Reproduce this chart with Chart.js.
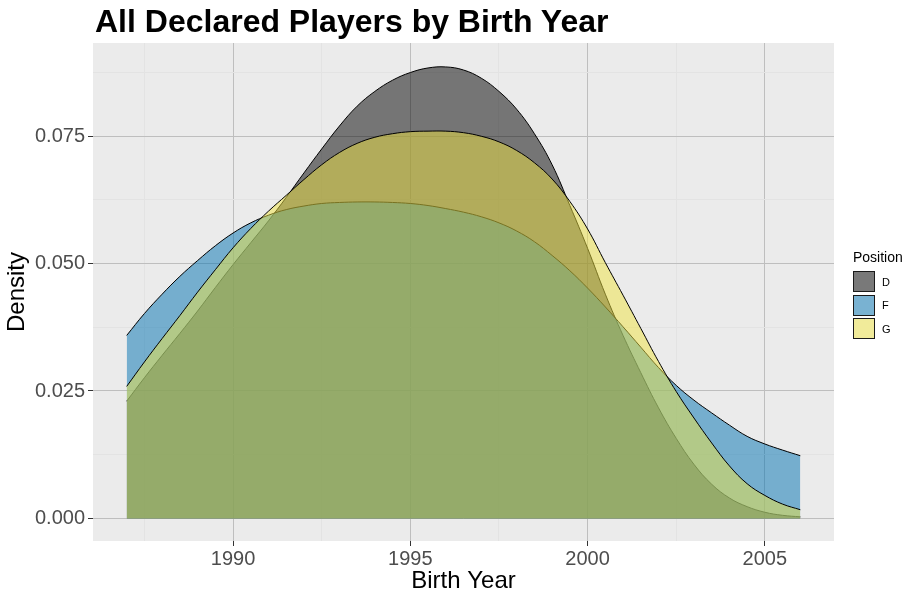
<!DOCTYPE html>
<html>
<head>
<meta charset="utf-8">
<script src="https://cdn.jsdelivr.net/npm/chart.js@4"></script>
<style>
    body { margin: 0; background: #fff; font-family: "Liberation Sans", Arial, sans-serif; }
    #wrap { position: relative; width: 919px; height: 601px; }
    #chart { position: absolute; left: 0; top: 0; }
    #title { position: absolute; left: 95px; top: 5px; font-size: 32px; font-weight: bold; line-height: 32px; color: #000; white-space: nowrap; }
    #legend { position: absolute; left: 853px; top: 249px; }
    #legend .ttl { font-size: 14px; line-height: 16px; margin-bottom: 5px; }
    #legend .row { display: flex; align-items: center; height: 23.5px; }
    #legend .key { width: 22px; height: 21px; background: #f2f2f2; position: relative; }
    #legend .key span { position: absolute; inset: 0; border: 1px solid #1a1a1a; box-sizing: border-box; }
    #legend .lbl { font-size: 11px; margin-left: 7px; }
</style>
</head>
<body>
<div id="wrap">
    <canvas id="chart" width="919" height="601"></canvas>
    <div id="title">All Declared Players by Birth Year</div>
    <div id="legend"></div>
</div>
<script>
/* ---------------- DATA ---------------- */
const birthYears = [1987, 1987.5, 1988, 1988.5, 1989, 1989.5, 1990, 1990.5, 1991, 1991.5,
    1992, 1992.5, 1993, 1993.5, 1994, 1994.5, 1995, 1995.5, 1996, 1996.5,
    1997, 1997.5, 1998, 1998.5, 1999, 1999.5, 2000, 2000.5, 2001, 2001.5,
    2002, 2002.5, 2003, 2003.5, 2004, 2004.5, 2005, 2005.5, 2006];

const densityD = [0.0230, 0.0276, 0.0320, 0.0363, 0.0407, 0.0453, 0.0498, 0.0541, 0.0584, 0.0630,
    0.0678, 0.0725, 0.0770, 0.0809, 0.0838, 0.0860, 0.0875, 0.0884, 0.0886, 0.0880,
    0.0864, 0.0838, 0.0803, 0.0755, 0.0694, 0.0614, 0.0530, 0.0440, 0.0359, 0.0286,
    0.0217, 0.0157, 0.0106, 0.0067, 0.0040, 0.0023, 0.0012, 0.0006, 0.0003];

const densityF = [0.0359, 0.0402, 0.0440, 0.0475, 0.0506, 0.0535, 0.0560, 0.0580, 0.0595, 0.0606,
    0.0613, 0.0618, 0.0620, 0.0621, 0.0621, 0.0620, 0.0618, 0.0614, 0.0608, 0.0601,
    0.0592, 0.0580, 0.0564, 0.0543, 0.0516, 0.0486, 0.0452, 0.0415, 0.0376, 0.0336,
    0.0296, 0.0261, 0.0232, 0.0207, 0.0183, 0.0161, 0.0146, 0.0134, 0.0123];

const densityG = [0.0259, 0.0307, 0.0353, 0.0398, 0.0444, 0.0488, 0.0531, 0.0569, 0.0603, 0.0634,
    0.0665, 0.0694, 0.0718, 0.0736, 0.0748, 0.0755, 0.0759, 0.0760, 0.0760, 0.0757,
    0.0750, 0.0739, 0.0722, 0.0698, 0.0666, 0.0622, 0.0568, 0.0502, 0.0438, 0.0373,
    0.0308, 0.0249, 0.0197, 0.0148, 0.0103, 0.0068, 0.0045, 0.0028, 0.0017];

const positions = ["D", "F", "G"];
const fillColors = ["rgba(0,0,0,0.5)", "rgba(0,114,178,0.5)", "rgba(240,228,66,0.5)"];

const xMajorTicks = [1990, 1995, 2000, 2005];
const xMinorTicks = [1987.5, 1992.5, 1997.5, 2002.5];
const yMajorTicks = [0, 0.025, 0.05, 0.075];
const yMinorTicks = [0.0125, 0.0375, 0.0625, 0.0875];

/* ---------------- HELPERS ---------------- */
const toPoints = vals => vals.map((v, i) => ({ x: birthYears[i], y: v }));
const isMajor = (list, v) => list.some(t => Math.abs(t - v) < 1e-6);
const allTicks = (a, b) => a.concat(b).sort((p, q) => p - q).map(v => ({ value: v }));

const panelBg = {
    id: "panelBg",
    beforeDraw(chart) {
        const { ctx, chartArea: a } = chart;
        ctx.save();
        ctx.fillStyle = "#ebebeb";
        ctx.fillRect(a.left, a.top, a.right - a.left, a.bottom - a.top);
        ctx.restore();
    }
};

const seriesData = [densityD, densityF, densityG];
// D drawn first (bottom), G last (top)
const datasets = positions.map((p, i) => ({
    label: p,
    data: toPoints(seriesData[i]),
    backgroundColor: fillColors[i],
    borderColor: "#000",
    borderWidth: 1,
    fill: "origin",
    pointRadius: 0,
    tension: 0.4,
    order: positions.length - i
}));

const tickFont = { family: "Liberation Sans", size: 20 };
const titleFont = { family: "Liberation Sans", size: 24 };

new Chart(document.getElementById("chart"), {
    type: "line",
    data: { datasets },
    plugins: [panelBg],
    options: {
        responsive: false,
        animation: false,
        events: [],
        layout: { padding: { top: 43, right: 85, left: 0, bottom: 0 } },
        plugins: { legend: { display: false }, tooltip: { enabled: false }, title: { display: false } },
        scales: {
            x: {
                type: "linear",
                min: 1986.05,
                max: 2006.95,
                afterBuildTicks: s => { s.ticks = allTicks(xMajorTicks, xMinorTicks); },
                afterFit: s => { s.height = 60; },
                border: { display: false },
                grid: {
                    color: c => isMajor(xMajorTicks, c.tick.value) ? "#bebebe" : "#e3e3e3",
                    lineWidth: 1,
                    tickColor: c => isMajor(xMajorTicks, c.tick.value) ? "#333333" : "rgba(0,0,0,0)",
                    tickLength: 5,
                    tickWidth: 1
                },
                ticks: {
                    autoSkip: false,
                    maxRotation: 0,
                    padding: 1,
                    color: "#4d4d4d",
                    font: tickFont,
                    callback: v => isMajor(xMajorTicks, v) ? String(v) : ""
                },
                title: { display: true, text: "Birth Year", color: "#000", font: titleFont, padding: { top: 0, bottom: 5.6 } }
            },
            y: {
                type: "linear",
                min: -0.00444,
                max: 0.0933,
                afterBuildTicks: s => { s.ticks = allTicks(yMajorTicks, yMinorTicks); },
                afterFit: s => { s.width = 93; },
                border: { display: false },
                grid: {
                    color: c => isMajor(yMajorTicks, c.tick.value) ? "#bebebe" : "#e3e3e3",
                    lineWidth: 1,
                    tickColor: c => isMajor(yMajorTicks, c.tick.value) ? "#333333" : "rgba(0,0,0,0)",
                    tickLength: 5,
                    tickWidth: 1
                },
                ticks: {
                    autoSkip: false,
                    padding: 3,
                    color: "#4d4d4d",
                    font: tickFont,
                    callback: v => isMajor(yMajorTicks, v) ? v.toFixed(3) : ""
                },
                title: { display: true, text: "Density", color: "#000", font: titleFont, padding: { top: 3, bottom: 0 } }
            }
        }
    }
});

/* ---------------- LEGEND ---------------- */
const legend = document.getElementById("legend");
legend.innerHTML = `<div class="ttl">Position</div>` + positions
    .map((p, i) => `<div class="row"><div class="key"><span style="background:${fillColors[i]}"></span></div><div class="lbl">${p}</div></div>`)
    .join("");
</script>
</body>
</html>
